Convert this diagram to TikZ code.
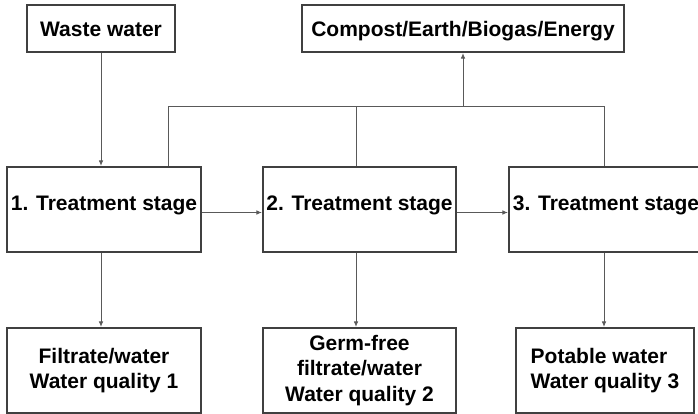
\documentclass[tikz,border=0pt]{standalone}
\usepackage{fontspec}
\setmainfont{Liberation Sans}
\usetikzlibrary{arrows.meta}
\begin{document}
\begin{tikzpicture}[x=1pt,y=-1pt,
  box/.style={draw=black!75, line width=1.1pt, fill=white, inner sep=0pt,
    font=\fontsize{21}{25.5}\selectfont\bfseries},
  conn/.style={draw=black!65, line width=0.9pt},
  arr/.style={conn, -{Latex[length=5.5pt,width=4.5pt]}, shorten >=0.5pt}]
\useasboundingbox (0,0) rectangle (698,414);
% nodes
\node[box, minimum width=148, minimum height=47, text height=16pt, text depth=0pt] (waste) at (101,28.5) {Waste water};
\node[box, minimum width=322, minimum height=47, text height=16pt, text depth=0pt] (comp) at (463,28.5) {Compost/Earth/Biogas/Energy};
\node[box, minimum width=194, minimum height=85, text depth=12pt] (s1) at (104,209.5) {1. Treatment stage};
\node[box, minimum width=193, minimum height=85, text depth=12pt] (s2) at (359.5,209.5) {2. Treatment stage};
\node[box, minimum width=194, minimum height=85, text depth=12pt] (s3) at (606,209.5) {3. Treatment stage};
\node[box, minimum width=194, minimum height=85, align=center] (b1) at (104,370.5) {Filtrate/water\\Water quality 1};
\node[box, minimum width=193, minimum height=85, align=center] (b2) at (359.5,370.5) {Germ-free\\filtrate/water\\Water quality 2};
\node[box, minimum width=178, minimum height=85, align=left] (b3) at (605,370.5) {Potable water\\Water quality 3};
% bus coordinates
\coordinate (busL) at (168,106);
\coordinate (busM) at (356,106);
\coordinate (busA) at (463,106);
\coordinate (busR) at (604,106);
% connectors
\draw[arr] (waste.south) -- (waste.south |- s1.north);
\draw[arr] ([yshift=-3pt]s1.east) -- ([yshift=-3pt]s2.west);
\draw[arr] ([yshift=-3pt]s2.east) -- ([yshift=-3pt]s3.west);
\draw[conn] (busL |- s1.north) -- (busL) -- (busR) -- (busR |- s3.north);
\draw[conn] (busM |- s2.north) -- (busM);
\draw[arr] (busA) -- (busA |- comp.south);
\draw[arr] (waste.south |- s1.south) -- (waste.south |- b1.north);
\draw[arr] (busM |- s2.south) -- (busM |- b2.north);
\draw[arr] (busR |- s3.south) -- (busR |- b3.north);
\end{tikzpicture}
\end{document}
